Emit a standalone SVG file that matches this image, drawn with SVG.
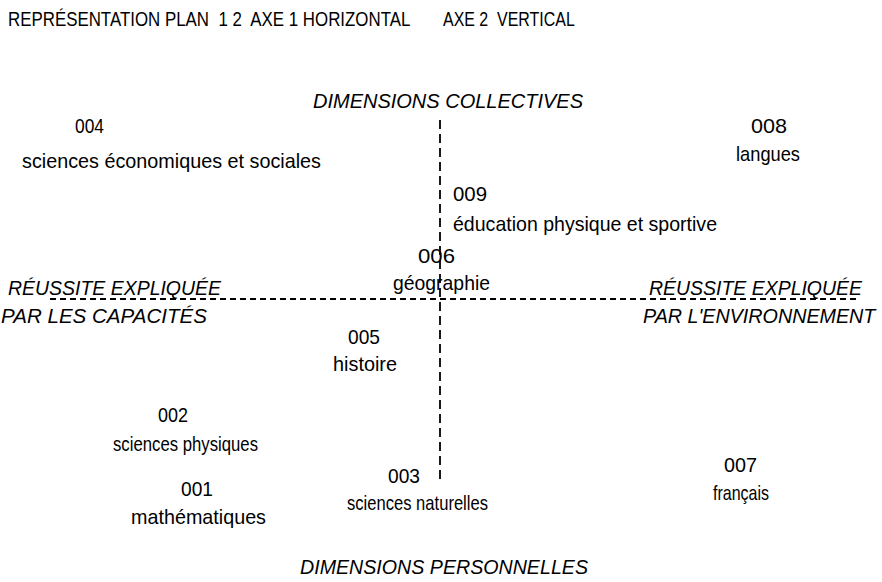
<svg xmlns="http://www.w3.org/2000/svg" width="882" height="582" viewBox="0 0 882 582">
<style>
text{font-family:"Liberation Sans",Arial,sans-serif;font-size:21px;fill:#000}
.i{font-style:italic}
.ax{stroke:#000;stroke-width:1.8;fill:none}
</style>
<rect width="882" height="582" fill="#fff"/>
<g id="title">
<text xml:space="preserve" transform="translate(8,26) scale(0.804,1)">REPRÉSENTATION PLAN  1 2  AXE 1 HORIZONTAL</text>
<text xml:space="preserve" transform="translate(443,26) scale(0.76,1)">AXE 2  VERTICAL</text>
</g>
<g id="connectors">
<line class="ax" x1="440" y1="120" x2="440" y2="480" stroke-dasharray="9,5"/>
<line class="ax" x1="50" y1="299" x2="858" y2="299" stroke-dasharray="6,4"/>
</g>
<g id="axis-top"><text class="i" x="313" y="108" textLength="270" lengthAdjust="spacingAndGlyphs">DIMENSIONS COLLECTIVES</text></g>
<g id="axis-bottom"><text class="i" x="300" y="574" textLength="288" lengthAdjust="spacingAndGlyphs">DIMENSIONS PERSONNELLES</text></g>
<g id="axis-left"><text class="i" x="8" y="295" textLength="213" lengthAdjust="spacingAndGlyphs">RÉUSSITE EXPLIQUÉE</text><text class="i" x="1" y="323" textLength="206" lengthAdjust="spacingAndGlyphs">PAR LES CAPACITÉS</text></g>
<g id="axis-right"><text class="i" x="649" y="295" textLength="213" lengthAdjust="spacingAndGlyphs">RÉUSSITE EXPLIQUÉE</text><text class="i" transform="translate(643,323) scale(0.94,1)">PAR L'ENVIRONNEMENT</text></g>
<g id="n004"><text x="75" y="133" textLength="29" lengthAdjust="spacingAndGlyphs">004</text><text x="22" y="168" textLength="299" lengthAdjust="spacingAndGlyphs">sciences économiques et sociales</text></g>
<g id="n008"><text x="751" y="133" textLength="36" lengthAdjust="spacingAndGlyphs">008</text><text x="736" y="161" textLength="64" lengthAdjust="spacingAndGlyphs">langues</text></g>
<g id="n009"><text x="453" y="201" textLength="34" lengthAdjust="spacingAndGlyphs">009</text><text x="453" y="231" textLength="264" lengthAdjust="spacingAndGlyphs">éducation physique et sportive</text></g>
<g id="n006"><text x="418" y="263" textLength="37" lengthAdjust="spacingAndGlyphs">006</text><text x="393" y="290" textLength="97" lengthAdjust="spacingAndGlyphs">géographie</text></g>
<g id="n005"><text x="348" y="344" textLength="32" lengthAdjust="spacingAndGlyphs">005</text><text x="333" y="371" textLength="64" lengthAdjust="spacingAndGlyphs">histoire</text></g>
<g id="n002"><text x="158" y="422" textLength="30" lengthAdjust="spacingAndGlyphs">002</text><text x="113" y="451" textLength="145" lengthAdjust="spacingAndGlyphs">sciences physiques</text></g>
<g id="n007"><text x="724" y="472" textLength="33" lengthAdjust="spacingAndGlyphs">007</text><text x="713" y="500" textLength="56" lengthAdjust="spacingAndGlyphs">français</text></g>
<g id="n001"><text x="181" y="496" textLength="32" lengthAdjust="spacingAndGlyphs">001</text><text x="131" y="524" textLength="135" lengthAdjust="spacingAndGlyphs">mathématiques</text></g>
<g id="n003"><text x="388" y="483" textLength="32" lengthAdjust="spacingAndGlyphs">003</text><text x="347" y="510" textLength="141" lengthAdjust="spacingAndGlyphs">sciences naturelles</text></g>
</svg>
